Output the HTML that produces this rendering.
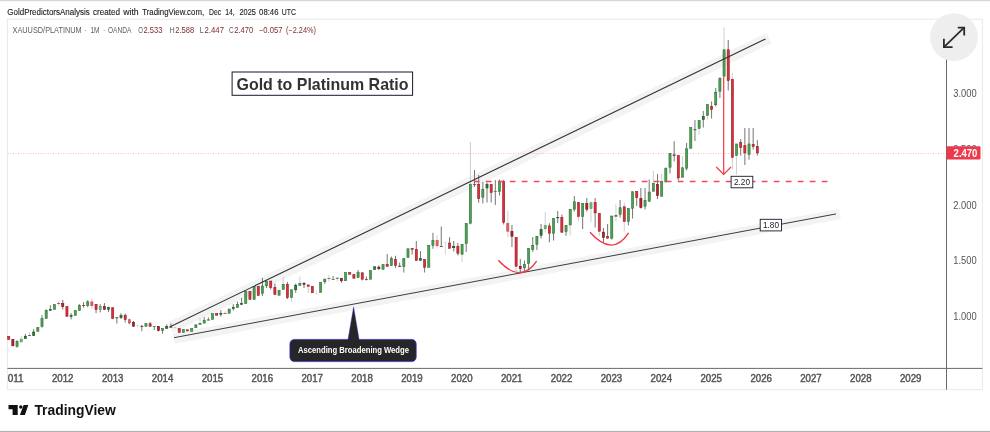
<!DOCTYPE html>
<html><head><meta charset="utf-8"><title>Gold to Platinum Ratio</title>
<style>
html,body{margin:0;padding:0;background:#fff}
body{width:990px;height:432px;overflow:hidden;position:relative}
svg{position:absolute;left:0;top:0;display:block}
text{font-family:"Liberation Sans",Arial,sans-serif}
</style></head><body>
<svg width="990" height="432" viewBox="0 0 990 432">

<rect x="0" y="0" width="990" height="1.2" fill="#d6d6d6"/>
<rect x="0" y="430.9" width="990" height="1.1" fill="#b0b0b0"/>
<rect x="7.4" y="19.2" width="975" height="370.5" fill="#fff" stroke="#e9e9e9" stroke-width="1"/>
<line x1="170.50" y1="327.46" x2="769.10" y2="38.16" stroke="#f3f3f3" stroke-width="11.5"/>
<line x1="173.71" y1="338.56" x2="839.93" y2="214.01" stroke="#f3f3f3" stroke-width="10.4"/>
<line x1="8" y1="153.5" x2="946" y2="153.5" stroke="#f6b3b8" stroke-width="0.85" stroke-dasharray="1 1.5"/>
<g id="candles">
<rect x="7.65" y="336.35" width="2.15" height="3.10" fill="#dc2e3a" stroke="#8e1c24" stroke-width="0.55"/>
<rect x="11.80" y="339.35" width="2.15" height="6.50" fill="#c01f2c" stroke="#5e0c13" stroke-width="0.55"/>
<line x1="17.04" y1="340.2" x2="17.04" y2="347.6" stroke="#505050" stroke-width="0.8"/>
<rect x="15.96" y="341.45" width="2.15" height="4.90" fill="#4ca050" stroke="#2c6e35" stroke-width="0.55"/>
<line x1="21.20" y1="336.1" x2="21.20" y2="342.2" stroke="#c2c2c2" stroke-width="0.8"/>
<rect x="20.12" y="339.15" width="2.15" height="2.80" fill="#72b876" stroke="#4a9453" stroke-width="0.55"/>
<line x1="25.36" y1="334.1" x2="25.36" y2="338.8" stroke="#505050" stroke-width="0.8"/>
<rect x="24.28" y="336.25" width="2.15" height="2.30" fill="#2c7c38" stroke="#114a1d" stroke-width="0.55"/>
<line x1="29.52" y1="332.3" x2="29.52" y2="336.4" stroke="#c2c2c2" stroke-width="0.8"/>
<rect x="28.02" y="335.1" width="3" height="0.8" fill="#2c6e35"/>
<line x1="33.67" y1="329.1" x2="33.67" y2="335.7" stroke="#505050" stroke-width="0.8"/>
<rect x="32.60" y="332.05" width="2.15" height="3.40" fill="#2c7c38" stroke="#114a1d" stroke-width="0.55"/>
<rect x="36.76" y="327.35" width="2.15" height="4.10" fill="#4ca050" stroke="#2c6e35" stroke-width="0.55"/>
<line x1="41.99" y1="315.2" x2="41.99" y2="327.6" stroke="#505050" stroke-width="0.8"/>
<rect x="40.92" y="318.65" width="2.15" height="7.90" fill="#4ca050" stroke="#2c6e35" stroke-width="0.55"/>
<line x1="46.15" y1="309.3" x2="46.15" y2="318.6" stroke="#505050" stroke-width="0.8"/>
<rect x="45.08" y="310.35" width="2.15" height="8.00" fill="#4ca050" stroke="#2c6e35" stroke-width="0.55"/>
<line x1="50.31" y1="305.2" x2="50.31" y2="310.5" stroke="#505050" stroke-width="0.8"/>
<rect x="49.23" y="309.35" width="2.15" height="0.90" fill="#2c7c38" stroke="#114a1d" stroke-width="0.55"/>
<rect x="53.39" y="304.45" width="2.15" height="5.10" fill="#4ca050" stroke="#2c6e35" stroke-width="0.55"/>
<line x1="58.63" y1="301.1" x2="58.63" y2="305.7" stroke="#c2c2c2" stroke-width="0.8"/>
<rect x="57.13" y="303.0" width="3" height="0.7" fill="#8e1c24"/>
<line x1="62.79" y1="299.9" x2="62.79" y2="309.5" stroke="#505050" stroke-width="0.8"/>
<rect x="61.71" y="303.65" width="2.15" height="2.80" fill="#c01f2c" stroke="#5e0c13" stroke-width="0.55"/>
<rect x="65.87" y="306.65" width="2.15" height="9.70" fill="#dc2e3a" stroke="#8e1c24" stroke-width="0.55"/>
<line x1="71.11" y1="313.1" x2="71.11" y2="319.4" stroke="#505050" stroke-width="0.8"/>
<rect x="70.03" y="315.45" width="2.15" height="0.90" fill="#2c7c38" stroke="#114a1d" stroke-width="0.55"/>
<rect x="74.19" y="310.55" width="2.15" height="4.90" fill="#4ca050" stroke="#2c6e35" stroke-width="0.55"/>
<line x1="79.42" y1="304.2" x2="79.42" y2="310.6" stroke="#505050" stroke-width="0.8"/>
<rect x="78.35" y="305.25" width="2.15" height="5.10" fill="#4ca050" stroke="#2c6e35" stroke-width="0.55"/>
<line x1="83.58" y1="302.1" x2="83.58" y2="307.7" stroke="#505050" stroke-width="0.8"/>
<rect x="82.08" y="305.0" width="3" height="0.8" fill="#8e1c24"/>
<line x1="87.74" y1="300.1" x2="87.74" y2="307.2" stroke="#505050" stroke-width="0.8"/>
<rect x="86.67" y="301.85" width="2.15" height="3.60" fill="#4ca050" stroke="#2c6e35" stroke-width="0.55"/>
<line x1="91.90" y1="298.9" x2="91.90" y2="308.7" stroke="#c2c2c2" stroke-width="0.8"/>
<rect x="90.82" y="301.85" width="2.15" height="3.90" fill="#ea5b66" stroke="#c4434d" stroke-width="0.55"/>
<line x1="96.06" y1="304.1" x2="96.06" y2="313.2" stroke="#505050" stroke-width="0.8"/>
<rect x="94.98" y="304.35" width="2.15" height="5.20" fill="#dc2e3a" stroke="#8e1c24" stroke-width="0.55"/>
<line x1="100.22" y1="304.3" x2="100.22" y2="312.3" stroke="#505050" stroke-width="0.8"/>
<rect x="99.14" y="306.55" width="2.15" height="3.10" fill="#72b876" stroke="#4a9453" stroke-width="0.55"/>
<line x1="104.38" y1="303.0" x2="104.38" y2="310.0" stroke="#505050" stroke-width="0.8"/>
<rect x="103.30" y="306.65" width="2.15" height="2.70" fill="#c01f2c" stroke="#5e0c13" stroke-width="0.55"/>
<line x1="108.54" y1="306.8" x2="108.54" y2="312.0" stroke="#505050" stroke-width="0.8"/>
<rect x="107.46" y="307.45" width="2.15" height="1.80" fill="#2c7c38" stroke="#114a1d" stroke-width="0.55"/>
<line x1="112.69" y1="307.5" x2="112.69" y2="319.2" stroke="#505050" stroke-width="0.8"/>
<rect x="111.62" y="307.75" width="2.15" height="10.50" fill="#dc2e3a" stroke="#8e1c24" stroke-width="0.55"/>
<line x1="116.85" y1="317.2" x2="116.85" y2="323.5" stroke="#505050" stroke-width="0.8"/>
<rect x="115.35" y="317.2" width="3" height="1.0" fill="#2c6e35"/>
<line x1="121.01" y1="313.2" x2="121.01" y2="319.0" stroke="#505050" stroke-width="0.8"/>
<rect x="119.94" y="315.55" width="2.15" height="2.00" fill="#2c7c38" stroke="#114a1d" stroke-width="0.55"/>
<line x1="125.17" y1="313.5" x2="125.17" y2="322.5" stroke="#505050" stroke-width="0.8"/>
<rect x="124.10" y="315.25" width="2.15" height="4.30" fill="#dc2e3a" stroke="#8e1c24" stroke-width="0.55"/>
<line x1="129.33" y1="318.8" x2="129.33" y2="324.2" stroke="#505050" stroke-width="0.8"/>
<rect x="128.26" y="319.75" width="2.15" height="3.20" fill="#ea5b66" stroke="#c4434d" stroke-width="0.55"/>
<line x1="133.49" y1="321.0" x2="133.49" y2="326.5" stroke="#505050" stroke-width="0.8"/>
<rect x="132.42" y="322.25" width="2.15" height="4.00" fill="#c01f2c" stroke="#5e0c13" stroke-width="0.55"/>
<line x1="137.65" y1="324.5" x2="137.65" y2="327.5" stroke="#cfcfcf" stroke-width="0.8"/>
<rect x="136.45" y="325.3" width="2.4" height="0.5" fill="#dc2e3a" opacity="0.35"/>
<line x1="141.81" y1="324.8" x2="141.81" y2="331.2" stroke="#505050" stroke-width="0.8"/>
<rect x="140.31" y="326.0" width="3" height="0.8" fill="#8e1c24"/>
<rect x="144.89" y="323.55" width="2.15" height="2.80" fill="#4ca050" stroke="#2c6e35" stroke-width="0.55"/>
<line x1="150.13" y1="322.0" x2="150.13" y2="326.6" stroke="#505050" stroke-width="0.8"/>
<rect x="149.05" y="323.75" width="2.15" height="2.60" fill="#dc2e3a" stroke="#8e1c24" stroke-width="0.55"/>
<line x1="154.28" y1="326.2" x2="154.28" y2="330.0" stroke="#505050" stroke-width="0.8"/>
<rect x="152.78" y="326.2" width="3" height="0.7" fill="#2c6e35"/>
<line x1="158.44" y1="326.2" x2="158.44" y2="331.5" stroke="#505050" stroke-width="0.8"/>
<rect x="157.37" y="326.45" width="2.15" height="4.00" fill="#c01f2c" stroke="#5e0c13" stroke-width="0.55"/>
<line x1="162.60" y1="328.2" x2="162.60" y2="333.8" stroke="#505050" stroke-width="0.8"/>
<rect x="161.53" y="328.45" width="2.15" height="2.00" fill="#4ca050" stroke="#2c6e35" stroke-width="0.55"/>
<line x1="166.76" y1="324.5" x2="166.76" y2="328.6" stroke="#505050" stroke-width="0.8"/>
<rect x="165.69" y="326.55" width="2.15" height="1.80" fill="#2c7c38" stroke="#114a1d" stroke-width="0.55"/>
<line x1="170.92" y1="323.5" x2="170.92" y2="327.6" stroke="#505050" stroke-width="0.8"/>
<rect x="169.42" y="326.8" width="3" height="0.8" fill="#8e1c24"/>
<line x1="175.08" y1="326.5" x2="175.08" y2="328.5" stroke="#cfcfcf" stroke-width="0.8"/>
<rect x="173.88" y="327.3" width="2.4" height="0.5" fill="#dc2e3a" opacity="0.35"/>
<rect x="178.16" y="328.45" width="2.15" height="4.10" fill="#dc2e3a" stroke="#8e1c24" stroke-width="0.55"/>
<rect x="182.32" y="329.25" width="2.15" height="3.30" fill="#4ca050" stroke="#2c6e35" stroke-width="0.55"/>
<rect x="186.48" y="329.75" width="2.15" height="1.20" fill="#dc2e3a" stroke="#8e1c24" stroke-width="0.55"/>
<rect x="190.64" y="328.45" width="2.15" height="2.80" fill="#4ca050" stroke="#2c6e35" stroke-width="0.55"/>
<rect x="194.80" y="324.75" width="2.15" height="3.00" fill="#4ca050" stroke="#2c6e35" stroke-width="0.55"/>
<line x1="200.03" y1="318.0" x2="200.03" y2="324.5" stroke="#c2c2c2" stroke-width="0.8"/>
<rect x="198.53" y="323.3" width="3" height="1.2" fill="#114a1d"/>
<line x1="204.19" y1="317.2" x2="204.19" y2="323.3" stroke="#505050" stroke-width="0.8"/>
<rect x="203.12" y="320.45" width="2.15" height="2.60" fill="#4ca050" stroke="#2c6e35" stroke-width="0.55"/>
<line x1="208.35" y1="317.5" x2="208.35" y2="320.5" stroke="#505050" stroke-width="0.8"/>
<rect x="206.85" y="319.5" width="3" height="1.0" fill="#2c6e35"/>
<rect x="211.44" y="313.45" width="2.15" height="6.10" fill="#4ca050" stroke="#2c6e35" stroke-width="0.55"/>
<rect x="215.59" y="313.25" width="2.15" height="2.00" fill="#dc2e3a" stroke="#8e1c24" stroke-width="0.55"/>
<line x1="220.83" y1="310.2" x2="220.83" y2="316.5" stroke="#505050" stroke-width="0.8"/>
<rect x="219.75" y="313.25" width="2.15" height="1.00" fill="#2c7c38" stroke="#114a1d" stroke-width="0.55"/>
<line x1="224.99" y1="311.5" x2="224.99" y2="313.5" stroke="#c2c2c2" stroke-width="0.8"/>
<rect x="223.49" y="313.1" width="3" height="0.7" fill="#8e1c24"/>
<rect x="228.07" y="309.05" width="2.15" height="4.20" fill="#4ca050" stroke="#2c6e35" stroke-width="0.55"/>
<line x1="233.31" y1="304.2" x2="233.31" y2="310.5" stroke="#505050" stroke-width="0.8"/>
<rect x="232.23" y="307.45" width="2.15" height="1.10" fill="#2c7c38" stroke="#114a1d" stroke-width="0.55"/>
<line x1="237.46" y1="301.8" x2="237.46" y2="307.8" stroke="#505050" stroke-width="0.8"/>
<rect x="236.39" y="304.45" width="2.15" height="3.10" fill="#4ca050" stroke="#2c6e35" stroke-width="0.55"/>
<line x1="241.62" y1="298.0" x2="241.62" y2="304.7" stroke="#505050" stroke-width="0.8"/>
<rect x="240.55" y="303.45" width="2.15" height="1.00" fill="#2c7c38" stroke="#114a1d" stroke-width="0.55"/>
<rect x="244.71" y="291.45" width="2.15" height="12.10" fill="#4ca050" stroke="#2c6e35" stroke-width="0.55"/>
<rect x="248.87" y="291.45" width="2.15" height="8.10" fill="#dc2e3a" stroke="#8e1c24" stroke-width="0.55"/>
<rect x="253.03" y="286.25" width="2.15" height="13.30" fill="#4ca050" stroke="#2c6e35" stroke-width="0.55"/>
<rect x="257.19" y="286.25" width="2.15" height="9.30" fill="#dc2e3a" stroke="#8e1c24" stroke-width="0.55"/>
<line x1="262.42" y1="278.0" x2="262.42" y2="296.0" stroke="#505050" stroke-width="0.8"/>
<rect x="261.34" y="286.05" width="2.15" height="7.20" fill="#4ca050" stroke="#2c6e35" stroke-width="0.55"/>
<line x1="266.58" y1="280.8" x2="266.58" y2="288.0" stroke="#505050" stroke-width="0.8"/>
<rect x="265.50" y="281.05" width="2.15" height="4.70" fill="#4ca050" stroke="#2c6e35" stroke-width="0.55"/>
<line x1="270.74" y1="280.8" x2="270.74" y2="289.5" stroke="#505050" stroke-width="0.8"/>
<rect x="269.66" y="281.05" width="2.15" height="6.50" fill="#dc2e3a" stroke="#8e1c24" stroke-width="0.55"/>
<line x1="274.90" y1="283.5" x2="274.90" y2="294.8" stroke="#505050" stroke-width="0.8"/>
<rect x="273.82" y="287.45" width="2.15" height="7.10" fill="#dc2e3a" stroke="#8e1c24" stroke-width="0.55"/>
<rect x="277.98" y="290.25" width="2.15" height="5.00" fill="#4ca050" stroke="#2c6e35" stroke-width="0.55"/>
<line x1="283.21" y1="277.0" x2="283.21" y2="289.8" stroke="#c2c2c2" stroke-width="0.8"/>
<rect x="282.14" y="284.25" width="2.15" height="5.30" fill="#4ca050" stroke="#2c6e35" stroke-width="0.55"/>
<line x1="287.37" y1="282.0" x2="287.37" y2="299.0" stroke="#505050" stroke-width="0.8"/>
<rect x="286.30" y="284.25" width="2.15" height="13.30" fill="#dc2e3a" stroke="#8e1c24" stroke-width="0.55"/>
<line x1="291.53" y1="289.5" x2="291.53" y2="301.8" stroke="#c2c2c2" stroke-width="0.8"/>
<rect x="290.46" y="289.75" width="2.15" height="7.80" fill="#4ca050" stroke="#2c6e35" stroke-width="0.55"/>
<line x1="295.69" y1="283.5" x2="295.69" y2="292.8" stroke="#505050" stroke-width="0.8"/>
<rect x="294.62" y="285.25" width="2.15" height="4.50" fill="#2c7c38" stroke="#114a1d" stroke-width="0.55"/>
<line x1="299.85" y1="276.5" x2="299.85" y2="285.8" stroke="#c2c2c2" stroke-width="0.8"/>
<rect x="298.78" y="283.25" width="2.15" height="2.30" fill="#4ca050" stroke="#2c6e35" stroke-width="0.55"/>
<line x1="304.01" y1="282.0" x2="304.01" y2="288.0" stroke="#505050" stroke-width="0.8"/>
<rect x="302.93" y="283.55" width="2.15" height="0.90" fill="#c01f2c" stroke="#5e0c13" stroke-width="0.55"/>
<line x1="308.17" y1="284.7" x2="308.17" y2="292.8" stroke="#c2c2c2" stroke-width="0.8"/>
<rect x="307.09" y="284.95" width="2.15" height="1.30" fill="#dc2e3a" stroke="#8e1c24" stroke-width="0.55"/>
<rect x="311.25" y="286.25" width="2.15" height="6.50" fill="#dc2e3a" stroke="#8e1c24" stroke-width="0.55"/>
<line x1="316.49" y1="290.8" x2="316.49" y2="294.2" stroke="#cfcfcf" stroke-width="0.8"/>
<rect x="315.29" y="293.6" width="2.4" height="0.5" fill="#4ca050" opacity="0.35"/>
<rect x="319.57" y="282.25" width="2.15" height="10.30" fill="#4ca050" stroke="#2c6e35" stroke-width="0.55"/>
<line x1="324.80" y1="278.8" x2="324.80" y2="283.8" stroke="#505050" stroke-width="0.8"/>
<rect x="323.73" y="279.05" width="2.15" height="2.70" fill="#4ca050" stroke="#2c6e35" stroke-width="0.55"/>
<line x1="328.96" y1="275.0" x2="328.96" y2="281.5" stroke="#c2c2c2" stroke-width="0.8"/>
<rect x="327.46" y="278.1" width="3" height="0.7" fill="#8e1c24"/>
<line x1="333.12" y1="276.0" x2="333.12" y2="279.7" stroke="#505050" stroke-width="0.8"/>
<rect x="331.62" y="279.0" width="3" height="0.7" fill="#2c6e35"/>
<line x1="337.28" y1="277.2" x2="337.28" y2="281.5" stroke="#c2c2c2" stroke-width="0.8"/>
<rect x="335.78" y="277.8" width="3" height="0.9" fill="#2c6e35"/>
<line x1="341.44" y1="278.0" x2="341.44" y2="282.8" stroke="#505050" stroke-width="0.8"/>
<rect x="340.37" y="278.25" width="2.15" height="2.50" fill="#c01f2c" stroke="#5e0c13" stroke-width="0.55"/>
<rect x="344.52" y="272.45" width="2.15" height="8.30" fill="#4ca050" stroke="#2c6e35" stroke-width="0.55"/>
<rect x="348.68" y="272.45" width="2.15" height="1.80" fill="#dc2e3a" stroke="#8e1c24" stroke-width="0.55"/>
<rect x="352.84" y="274.45" width="2.15" height="3.80" fill="#dc2e3a" stroke="#8e1c24" stroke-width="0.55"/>
<line x1="358.08" y1="270.0" x2="358.08" y2="277.8" stroke="#505050" stroke-width="0.8"/>
<rect x="357.00" y="272.25" width="2.15" height="5.30" fill="#4ca050" stroke="#2c6e35" stroke-width="0.55"/>
<line x1="362.24" y1="272.5" x2="362.24" y2="281.5" stroke="#c2c2c2" stroke-width="0.8"/>
<rect x="361.16" y="272.75" width="2.15" height="6.50" fill="#dc2e3a" stroke="#8e1c24" stroke-width="0.55"/>
<line x1="366.39" y1="276.5" x2="366.39" y2="280.5" stroke="#505050" stroke-width="0.8"/>
<rect x="364.89" y="279.0" width="3" height="0.7" fill="#8e1c24"/>
<rect x="369.48" y="270.45" width="2.15" height="8.80" fill="#4ca050" stroke="#2c6e35" stroke-width="0.55"/>
<rect x="373.64" y="266.75" width="2.15" height="2.70" fill="#2c7c38" stroke="#114a1d" stroke-width="0.55"/>
<line x1="378.87" y1="265.5" x2="378.87" y2="270.0" stroke="#505050" stroke-width="0.8"/>
<rect x="377.80" y="267.05" width="2.15" height="1.70" fill="#c01f2c" stroke="#5e0c13" stroke-width="0.55"/>
<rect x="381.96" y="264.45" width="2.15" height="5.00" fill="#4ca050" stroke="#2c6e35" stroke-width="0.55"/>
<line x1="387.19" y1="254.0" x2="387.19" y2="266.5" stroke="#505050" stroke-width="0.8"/>
<rect x="386.11" y="264.55" width="2.15" height="1.70" fill="#dc2e3a" stroke="#8e1c24" stroke-width="0.55"/>
<line x1="391.35" y1="256.5" x2="391.35" y2="265.8" stroke="#505050" stroke-width="0.8"/>
<rect x="390.27" y="258.45" width="2.15" height="7.10" fill="#4ca050" stroke="#2c6e35" stroke-width="0.55"/>
<line x1="395.51" y1="255.8" x2="395.51" y2="267.8" stroke="#505050" stroke-width="0.8"/>
<rect x="394.43" y="259.25" width="2.15" height="6.30" fill="#dc2e3a" stroke="#8e1c24" stroke-width="0.55"/>
<line x1="399.67" y1="262.5" x2="399.67" y2="266.8" stroke="#505050" stroke-width="0.8"/>
<rect x="398.17" y="265.8" width="3" height="1.0" fill="#8e1c24"/>
<line x1="403.82" y1="258.2" x2="403.82" y2="272.5" stroke="#505050" stroke-width="0.8"/>
<rect x="402.75" y="258.45" width="2.15" height="8.10" fill="#4ca050" stroke="#2c6e35" stroke-width="0.55"/>
<rect x="406.91" y="248.75" width="2.15" height="8.80" fill="#4ca050" stroke="#2c6e35" stroke-width="0.55"/>
<line x1="412.14" y1="248.2" x2="412.14" y2="254.5" stroke="#505050" stroke-width="0.8"/>
<rect x="411.07" y="248.45" width="2.15" height="0.80" fill="#dc2e3a" stroke="#8e1c24" stroke-width="0.55"/>
<line x1="416.30" y1="241.0" x2="416.30" y2="260.7" stroke="#505050" stroke-width="0.8"/>
<rect x="415.23" y="249.45" width="2.15" height="11.00" fill="#dc2e3a" stroke="#8e1c24" stroke-width="0.55"/>
<line x1="420.46" y1="251.0" x2="420.46" y2="260.7" stroke="#505050" stroke-width="0.8"/>
<rect x="419.39" y="258.45" width="2.15" height="2.00" fill="#2c7c38" stroke="#114a1d" stroke-width="0.55"/>
<line x1="424.62" y1="259.2" x2="424.62" y2="272.5" stroke="#505050" stroke-width="0.8"/>
<rect x="423.55" y="259.45" width="2.15" height="7.80" fill="#dc2e3a" stroke="#8e1c24" stroke-width="0.55"/>
<rect x="427.70" y="245.25" width="2.15" height="22.10" fill="#4ca050" stroke="#2c6e35" stroke-width="0.55"/>
<line x1="432.94" y1="232.8" x2="432.94" y2="248.8" stroke="#505050" stroke-width="0.8"/>
<rect x="431.86" y="240.25" width="2.15" height="5.30" fill="#4ca050" stroke="#2c6e35" stroke-width="0.55"/>
<line x1="437.10" y1="235.2" x2="437.10" y2="247.5" stroke="#c2c2c2" stroke-width="0.8"/>
<rect x="436.02" y="240.45" width="2.15" height="5.30" fill="#ea5b66" stroke="#c4434d" stroke-width="0.55"/>
<line x1="441.26" y1="226.5" x2="441.26" y2="246.8" stroke="#505050" stroke-width="0.8"/>
<rect x="439.76" y="246.0" width="3" height="0.8" fill="#8e1c24"/>
<line x1="445.42" y1="242.3" x2="445.42" y2="254.5" stroke="#cfcfcf" stroke-width="0.8"/>
<rect x="444.22" y="242.3" width="2.4" height="0.5" fill="#4ca050" opacity="0.35"/>
<line x1="449.57" y1="237.2" x2="449.57" y2="248.5" stroke="#505050" stroke-width="0.8"/>
<rect x="448.50" y="243.05" width="2.15" height="5.20" fill="#dc2e3a" stroke="#8e1c24" stroke-width="0.55"/>
<line x1="453.73" y1="241.0" x2="453.73" y2="251.5" stroke="#505050" stroke-width="0.8"/>
<rect x="452.66" y="246.25" width="2.15" height="1.50" fill="#2c7c38" stroke="#114a1d" stroke-width="0.55"/>
<line x1="457.89" y1="243.0" x2="457.89" y2="255.5" stroke="#505050" stroke-width="0.8"/>
<rect x="456.82" y="246.25" width="2.15" height="7.00" fill="#dc2e3a" stroke="#8e1c24" stroke-width="0.55"/>
<line x1="462.05" y1="244.0" x2="462.05" y2="262.0" stroke="#c2c2c2" stroke-width="0.8"/>
<rect x="460.98" y="244.25" width="2.15" height="10.00" fill="#4ca050" stroke="#2c6e35" stroke-width="0.55"/>
<line x1="466.21" y1="223.2" x2="466.21" y2="252.0" stroke="#505050" stroke-width="0.8"/>
<rect x="465.13" y="223.45" width="2.15" height="20.10" fill="#4ca050" stroke="#2c6e35" stroke-width="0.55"/>
<line x1="470.37" y1="142.0" x2="470.37" y2="225.0" stroke="#c2c2c2" stroke-width="0.8"/>
<rect x="469.29" y="184.25" width="2.15" height="39.10" fill="#4ca050" stroke="#2c6e35" stroke-width="0.55"/>
<line x1="474.53" y1="170.0" x2="474.53" y2="187.0" stroke="#505050" stroke-width="0.8"/>
<rect x="473.03" y="184.3" width="3" height="0.7" fill="#8e1c24"/>
<line x1="478.69" y1="175.0" x2="478.69" y2="202.8" stroke="#505050" stroke-width="0.8"/>
<rect x="477.61" y="184.45" width="2.15" height="14.10" fill="#dc2e3a" stroke="#8e1c24" stroke-width="0.55"/>
<line x1="482.85" y1="182.0" x2="482.85" y2="203.5" stroke="#505050" stroke-width="0.8"/>
<rect x="481.77" y="189.25" width="2.15" height="8.00" fill="#4ca050" stroke="#2c6e35" stroke-width="0.55"/>
<line x1="487.00" y1="182.5" x2="487.00" y2="202.5" stroke="#505050" stroke-width="0.8"/>
<rect x="485.93" y="184.25" width="2.15" height="3.70" fill="#2c7c38" stroke="#114a1d" stroke-width="0.55"/>
<line x1="491.16" y1="184.2" x2="491.16" y2="202.5" stroke="#505050" stroke-width="0.8"/>
<rect x="490.09" y="184.45" width="2.15" height="8.10" fill="#dc2e3a" stroke="#8e1c24" stroke-width="0.55"/>
<line x1="495.32" y1="180.0" x2="495.32" y2="205.0" stroke="#505050" stroke-width="0.8"/>
<rect x="493.82" y="191.2" width="3" height="0.7" fill="#2c6e35"/>
<line x1="499.48" y1="179.5" x2="499.48" y2="195.5" stroke="#505050" stroke-width="0.8"/>
<rect x="498.41" y="182.05" width="2.15" height="9.50" fill="#4ca050" stroke="#2c6e35" stroke-width="0.55"/>
<line x1="503.64" y1="180.0" x2="503.64" y2="224.5" stroke="#505050" stroke-width="0.8"/>
<rect x="502.57" y="181.25" width="2.15" height="41.00" fill="#dc2e3a" stroke="#8e1c24" stroke-width="0.55"/>
<line x1="507.80" y1="211.0" x2="507.80" y2="237.0" stroke="#c2c2c2" stroke-width="0.8"/>
<rect x="506.73" y="223.45" width="2.15" height="7.80" fill="#ea5b66" stroke="#c4434d" stroke-width="0.55"/>
<line x1="511.96" y1="225.0" x2="511.96" y2="247.0" stroke="#505050" stroke-width="0.8"/>
<rect x="510.88" y="231.45" width="2.15" height="4.80" fill="#c01f2c" stroke="#5e0c13" stroke-width="0.55"/>
<line x1="516.12" y1="237.2" x2="516.12" y2="271.0" stroke="#c2c2c2" stroke-width="0.8"/>
<rect x="515.04" y="237.45" width="2.15" height="28.80" fill="#dc2e3a" stroke="#8e1c24" stroke-width="0.55"/>
<line x1="520.28" y1="259.0" x2="520.28" y2="272.0" stroke="#505050" stroke-width="0.8"/>
<rect x="519.20" y="266.45" width="2.15" height="2.10" fill="#c01f2c" stroke="#5e0c13" stroke-width="0.55"/>
<line x1="524.44" y1="260.5" x2="524.44" y2="271.5" stroke="#505050" stroke-width="0.8"/>
<rect x="523.36" y="264.25" width="2.15" height="3.50" fill="#4ca050" stroke="#2c6e35" stroke-width="0.55"/>
<line x1="528.60" y1="248.0" x2="528.60" y2="270.5" stroke="#505050" stroke-width="0.8"/>
<rect x="527.52" y="248.25" width="2.15" height="15.30" fill="#4ca050" stroke="#2c6e35" stroke-width="0.55"/>
<line x1="532.75" y1="237.0" x2="532.75" y2="251.8" stroke="#505050" stroke-width="0.8"/>
<rect x="531.68" y="245.25" width="2.15" height="4.30" fill="#4ca050" stroke="#2c6e35" stroke-width="0.55"/>
<line x1="536.91" y1="236.0" x2="536.91" y2="250.0" stroke="#505050" stroke-width="0.8"/>
<rect x="535.84" y="236.25" width="2.15" height="8.30" fill="#4ca050" stroke="#2c6e35" stroke-width="0.55"/>
<line x1="541.07" y1="224.0" x2="541.07" y2="238.6" stroke="#505050" stroke-width="0.8"/>
<rect x="540.00" y="229.45" width="2.15" height="5.80" fill="#2c7c38" stroke="#114a1d" stroke-width="0.55"/>
<line x1="545.23" y1="212.0" x2="545.23" y2="232.5" stroke="#c2c2c2" stroke-width="0.8"/>
<rect x="544.16" y="225.45" width="2.15" height="3.30" fill="#72b876" stroke="#4a9453" stroke-width="0.55"/>
<line x1="549.39" y1="223.2" x2="549.39" y2="242.3" stroke="#505050" stroke-width="0.8"/>
<rect x="548.31" y="225.95" width="2.15" height="7.30" fill="#dc2e3a" stroke="#8e1c24" stroke-width="0.55"/>
<line x1="553.55" y1="218.2" x2="553.55" y2="240.5" stroke="#505050" stroke-width="0.8"/>
<rect x="552.47" y="218.45" width="2.15" height="14.80" fill="#4ca050" stroke="#2c6e35" stroke-width="0.55"/>
<line x1="557.71" y1="211.0" x2="557.71" y2="223.0" stroke="#505050" stroke-width="0.8"/>
<rect x="556.21" y="217.2" width="3" height="1.0" fill="#114a1d"/>
<line x1="561.87" y1="214.5" x2="561.87" y2="232.5" stroke="#505050" stroke-width="0.8"/>
<rect x="560.79" y="217.45" width="2.15" height="14.80" fill="#dc2e3a" stroke="#8e1c24" stroke-width="0.55"/>
<line x1="566.03" y1="225.2" x2="566.03" y2="235.8" stroke="#505050" stroke-width="0.8"/>
<rect x="564.95" y="225.45" width="2.15" height="6.10" fill="#4ca050" stroke="#2c6e35" stroke-width="0.55"/>
<line x1="570.18" y1="209.0" x2="570.18" y2="235.5" stroke="#c2c2c2" stroke-width="0.8"/>
<rect x="569.11" y="209.25" width="2.15" height="15.70" fill="#4ca050" stroke="#2c6e35" stroke-width="0.55"/>
<line x1="574.34" y1="196.0" x2="574.34" y2="211.5" stroke="#505050" stroke-width="0.8"/>
<rect x="573.27" y="201.75" width="2.15" height="7.50" fill="#4ca050" stroke="#2c6e35" stroke-width="0.55"/>
<line x1="578.50" y1="202.2" x2="578.50" y2="221.5" stroke="#c2c2c2" stroke-width="0.8"/>
<rect x="577.43" y="202.45" width="2.15" height="14.10" fill="#dc2e3a" stroke="#8e1c24" stroke-width="0.55"/>
<line x1="582.66" y1="203.2" x2="582.66" y2="229.0" stroke="#505050" stroke-width="0.8"/>
<rect x="581.59" y="203.45" width="2.15" height="12.80" fill="#4ca050" stroke="#2c6e35" stroke-width="0.55"/>
<line x1="586.82" y1="198.0" x2="586.82" y2="211.5" stroke="#505050" stroke-width="0.8"/>
<rect x="585.75" y="203.45" width="2.15" height="5.80" fill="#c01f2c" stroke="#5e0c13" stroke-width="0.55"/>
<line x1="590.98" y1="201.5" x2="590.98" y2="222.0" stroke="#c2c2c2" stroke-width="0.8"/>
<rect x="589.90" y="202.75" width="2.15" height="5.80" fill="#72b876" stroke="#4a9453" stroke-width="0.55"/>
<line x1="595.14" y1="198.0" x2="595.14" y2="227.5" stroke="#505050" stroke-width="0.8"/>
<rect x="594.06" y="202.45" width="2.15" height="10.50" fill="#dc2e3a" stroke="#8e1c24" stroke-width="0.55"/>
<line x1="599.30" y1="213.2" x2="599.30" y2="235.8" stroke="#c2c2c2" stroke-width="0.8"/>
<rect x="598.22" y="213.45" width="2.15" height="17.80" fill="#dc2e3a" stroke="#8e1c24" stroke-width="0.55"/>
<line x1="603.46" y1="228.0" x2="603.46" y2="242.1" stroke="#505050" stroke-width="0.8"/>
<rect x="602.38" y="232.15" width="2.15" height="5.40" fill="#c01f2c" stroke="#5e0c13" stroke-width="0.55"/>
<line x1="607.62" y1="224.0" x2="607.62" y2="238.4" stroke="#505050" stroke-width="0.8"/>
<rect x="606.54" y="236.35" width="2.15" height="1.80" fill="#dc2e3a" stroke="#8e1c24" stroke-width="0.55"/>
<line x1="611.77" y1="215.8" x2="611.77" y2="239.6" stroke="#505050" stroke-width="0.8"/>
<rect x="610.70" y="216.05" width="2.15" height="22.10" fill="#4ca050" stroke="#2c6e35" stroke-width="0.55"/>
<line x1="615.93" y1="204.0" x2="615.93" y2="221.5" stroke="#c2c2c2" stroke-width="0.8"/>
<rect x="614.43" y="215.3" width="3" height="1.2" fill="#114a1d"/>
<line x1="620.09" y1="200.0" x2="620.09" y2="217.5" stroke="#505050" stroke-width="0.8"/>
<rect x="619.02" y="207.75" width="2.15" height="6.50" fill="#4ca050" stroke="#2c6e35" stroke-width="0.55"/>
<line x1="624.25" y1="202.5" x2="624.25" y2="231.4" stroke="#c2c2c2" stroke-width="0.8"/>
<rect x="623.18" y="206.75" width="2.15" height="14.80" fill="#dc2e3a" stroke="#8e1c24" stroke-width="0.55"/>
<line x1="628.41" y1="208.2" x2="628.41" y2="225.5" stroke="#505050" stroke-width="0.8"/>
<rect x="627.34" y="208.45" width="2.15" height="13.10" fill="#4ca050" stroke="#2c6e35" stroke-width="0.55"/>
<line x1="632.57" y1="191.5" x2="632.57" y2="218.5" stroke="#505050" stroke-width="0.8"/>
<rect x="631.50" y="191.75" width="2.15" height="16.50" fill="#4ca050" stroke="#2c6e35" stroke-width="0.55"/>
<line x1="636.73" y1="191.2" x2="636.73" y2="206.0" stroke="#505050" stroke-width="0.8"/>
<rect x="635.65" y="191.45" width="2.15" height="6.10" fill="#dc2e3a" stroke="#8e1c24" stroke-width="0.55"/>
<line x1="640.89" y1="188.0" x2="640.89" y2="208.5" stroke="#505050" stroke-width="0.8"/>
<rect x="639.81" y="198.45" width="2.15" height="9.10" fill="#c01f2c" stroke="#5e0c13" stroke-width="0.55"/>
<line x1="645.05" y1="188.0" x2="645.05" y2="209.5" stroke="#505050" stroke-width="0.8"/>
<rect x="643.97" y="200.45" width="2.15" height="5.80" fill="#4ca050" stroke="#2c6e35" stroke-width="0.55"/>
<line x1="649.21" y1="179.5" x2="649.21" y2="201.5" stroke="#505050" stroke-width="0.8"/>
<rect x="648.13" y="192.05" width="2.15" height="9.20" fill="#4ca050" stroke="#2c6e35" stroke-width="0.55"/>
<line x1="653.37" y1="171.0" x2="653.37" y2="191.5" stroke="#c2c2c2" stroke-width="0.8"/>
<rect x="652.29" y="183.25" width="2.15" height="8.00" fill="#4ca050" stroke="#2c6e35" stroke-width="0.55"/>
<line x1="657.52" y1="174.0" x2="657.52" y2="199.0" stroke="#505050" stroke-width="0.8"/>
<rect x="656.45" y="184.45" width="2.15" height="11.10" fill="#c01f2c" stroke="#5e0c13" stroke-width="0.55"/>
<line x1="661.68" y1="174.0" x2="661.68" y2="196.5" stroke="#c2c2c2" stroke-width="0.8"/>
<rect x="660.61" y="181.45" width="2.15" height="14.80" fill="#4ca050" stroke="#2c6e35" stroke-width="0.55"/>
<rect x="664.77" y="168.05" width="2.15" height="13.90" fill="#4ca050" stroke="#2c6e35" stroke-width="0.55"/>
<line x1="670.00" y1="153.2" x2="670.00" y2="173.5" stroke="#505050" stroke-width="0.8"/>
<rect x="668.93" y="153.45" width="2.15" height="13.80" fill="#4ca050" stroke="#2c6e35" stroke-width="0.55"/>
<line x1="674.16" y1="141.2" x2="674.16" y2="161.5" stroke="#505050" stroke-width="0.8"/>
<rect x="672.66" y="154.5" width="3" height="1.2" fill="#8e1c24"/>
<line x1="678.32" y1="155.2" x2="678.32" y2="180.5" stroke="#505050" stroke-width="0.8"/>
<rect x="677.24" y="155.45" width="2.15" height="22.50" fill="#dc2e3a" stroke="#8e1c24" stroke-width="0.55"/>
<line x1="682.48" y1="156.0" x2="682.48" y2="177.5" stroke="#c2c2c2" stroke-width="0.8"/>
<rect x="681.40" y="167.75" width="2.15" height="9.50" fill="#4ca050" stroke="#2c6e35" stroke-width="0.55"/>
<line x1="686.64" y1="143.0" x2="686.64" y2="170.5" stroke="#505050" stroke-width="0.8"/>
<rect x="685.56" y="148.75" width="2.15" height="19.50" fill="#4ca050" stroke="#2c6e35" stroke-width="0.55"/>
<rect x="689.72" y="127.45" width="2.15" height="20.80" fill="#4ca050" stroke="#2c6e35" stroke-width="0.55"/>
<line x1="694.96" y1="120.0" x2="694.96" y2="141.0" stroke="#505050" stroke-width="0.8"/>
<rect x="693.46" y="129.2" width="3" height="1.0" fill="#2c6e35"/>
<line x1="699.11" y1="120.2" x2="699.11" y2="135.0" stroke="#c2c2c2" stroke-width="0.8"/>
<rect x="698.04" y="120.45" width="2.15" height="8.10" fill="#4ca050" stroke="#2c6e35" stroke-width="0.55"/>
<line x1="703.27" y1="111.0" x2="703.27" y2="127.5" stroke="#505050" stroke-width="0.8"/>
<rect x="702.20" y="116.45" width="2.15" height="3.10" fill="#2c7c38" stroke="#114a1d" stroke-width="0.55"/>
<line x1="707.43" y1="104.2" x2="707.43" y2="119.5" stroke="#c2c2c2" stroke-width="0.8"/>
<rect x="706.36" y="104.45" width="2.15" height="11.10" fill="#4ca050" stroke="#2c6e35" stroke-width="0.55"/>
<line x1="711.59" y1="101.5" x2="711.59" y2="118.5" stroke="#505050" stroke-width="0.8"/>
<rect x="710.52" y="106.45" width="2.15" height="3.10" fill="#dc2e3a" stroke="#8e1c24" stroke-width="0.55"/>
<line x1="715.75" y1="88.0" x2="715.75" y2="106.5" stroke="#505050" stroke-width="0.8"/>
<rect x="714.67" y="92.25" width="2.15" height="12.50" fill="#4ca050" stroke="#2c6e35" stroke-width="0.55"/>
<line x1="719.91" y1="77.2" x2="719.91" y2="98.0" stroke="#505050" stroke-width="0.8"/>
<rect x="718.83" y="78.45" width="2.15" height="12.80" fill="#4ca050" stroke="#2c6e35" stroke-width="0.55"/>
<line x1="724.07" y1="27.5" x2="724.07" y2="76.5" stroke="#c2c2c2" stroke-width="0.8"/>
<rect x="722.99" y="49.75" width="2.15" height="26.50" fill="#4ca050" stroke="#2c6e35" stroke-width="0.55"/>
<line x1="728.23" y1="40.0" x2="728.23" y2="90.5" stroke="#505050" stroke-width="0.8"/>
<rect x="727.15" y="49.75" width="2.15" height="30.80" fill="#dc2e3a" stroke="#8e1c24" stroke-width="0.55"/>
<line x1="732.39" y1="73.0" x2="732.39" y2="169.5" stroke="#c2c2c2" stroke-width="0.8"/>
<rect x="731.31" y="79.25" width="2.15" height="78.10" fill="#dc2e3a" stroke="#8e1c24" stroke-width="0.55"/>
<line x1="736.54" y1="143.7" x2="736.54" y2="174.5" stroke="#c2c2c2" stroke-width="0.8"/>
<rect x="735.47" y="143.95" width="2.15" height="11.60" fill="#4ca050" stroke="#2c6e35" stroke-width="0.55"/>
<line x1="740.70" y1="139.1" x2="740.70" y2="155.7" stroke="#505050" stroke-width="0.8"/>
<rect x="739.63" y="142.65" width="2.15" height="4.70" fill="#dc2e3a" stroke="#8e1c24" stroke-width="0.55"/>
<line x1="744.86" y1="128.0" x2="744.86" y2="165.0" stroke="#505050" stroke-width="0.8"/>
<rect x="743.79" y="145.65" width="2.15" height="7.20" fill="#dc2e3a" stroke="#8e1c24" stroke-width="0.55"/>
<line x1="749.02" y1="128.0" x2="749.02" y2="159.7" stroke="#505050" stroke-width="0.8"/>
<rect x="747.95" y="143.95" width="2.15" height="10.50" fill="#4ca050" stroke="#2c6e35" stroke-width="0.55"/>
<line x1="753.18" y1="128.0" x2="753.18" y2="149.5" stroke="#505050" stroke-width="0.8"/>
<rect x="752.11" y="144.35" width="2.15" height="2.10" fill="#dc2e3a" stroke="#8e1c24" stroke-width="0.55"/>
<line x1="757.34" y1="140.1" x2="757.34" y2="155.6" stroke="#505050" stroke-width="0.8"/>
<rect x="756.26" y="146.35" width="2.15" height="6.50" fill="#dc2e3a" stroke="#8e1c24" stroke-width="0.55"/>
</g>
<line x1="169.6" y1="327.0" x2="765.5" y2="39.0" stroke="#333" stroke-width="1.1"/>
<line x1="174.0" y1="337.7" x2="836.0" y2="213.95" stroke="#333" stroke-width="0.95"/>
<line x1="473.8" y1="181.5" x2="827.8" y2="181.5" stroke="#f3485a" stroke-width="1.3" stroke-dasharray="5.7 6.3"/>
<g stroke="#f23645" stroke-width="1.2" fill="none"><line x1="723.7" y1="77" x2="723.7" y2="174.3"/><polyline points="716.2,167.0 723.7,174.5 731.0,167.0"/></g>
<path d="M498.3,260.2 Q520.5,284.6 536.7,261.1" stroke="#f23645" stroke-width="1.4" fill="none"/>
<path d="M590,232.3 Q612.5,257.6 628.6,232.9" stroke="#f23645" stroke-width="1.4" fill="none"/>
<line x1="7.4" y1="368.4" x2="982.4" y2="368.4" stroke="#6a6a6a" stroke-width="1"/>
<line x1="946.5" y1="19.2" x2="946.5" y2="389.7" stroke="#6a6a6a" stroke-width="1"/>
<text x="953.3" y="97.0" font-size="10.4" fill="#555" textLength="23.4" lengthAdjust="spacingAndGlyphs">3.000</text>
<text x="953.3" y="152.7" font-size="10.4" fill="#555" textLength="23.4" lengthAdjust="spacingAndGlyphs">2.500</text>
<text x="953.3" y="208.5" font-size="10.4" fill="#555" textLength="23.4" lengthAdjust="spacingAndGlyphs">2.000</text>
<text x="953.3" y="264.2" font-size="10.4" fill="#555" textLength="23.4" lengthAdjust="spacingAndGlyphs">1.500</text>
<text x="953.3" y="320.0" font-size="10.4" fill="#555" textLength="23.4" lengthAdjust="spacingAndGlyphs">1.000</text>
<rect x="946.5" y="146.2" width="34" height="13.4" rx="1" fill="#ec3a4c"/>
<text x="953.6" y="156.6" font-size="10.8" font-weight="bold" fill="#fff" textLength="23.8" lengthAdjust="spacingAndGlyphs">2.470</text>
<g clip-path="url(#cf)">
<text x="2.2" y="382.3" font-size="10" fill="#555" stroke="#555" stroke-width="0.45" textLength="21.5" lengthAdjust="spacingAndGlyphs">2011</text>
<text x="52.0" y="382.3" font-size="10" fill="#555" stroke="#555" stroke-width="0.45" textLength="21.5" lengthAdjust="spacingAndGlyphs">2012</text>
<text x="101.9" y="382.3" font-size="10" fill="#555" stroke="#555" stroke-width="0.45" textLength="21.5" lengthAdjust="spacingAndGlyphs">2013</text>
<text x="151.8" y="382.3" font-size="10" fill="#555" stroke="#555" stroke-width="0.45" textLength="21.5" lengthAdjust="spacingAndGlyphs">2014</text>
<text x="201.7" y="382.3" font-size="10" fill="#555" stroke="#555" stroke-width="0.45" textLength="21.5" lengthAdjust="spacingAndGlyphs">2015</text>
<text x="251.6" y="382.3" font-size="10" fill="#555" stroke="#555" stroke-width="0.45" textLength="21.5" lengthAdjust="spacingAndGlyphs">2016</text>
<text x="301.4" y="382.3" font-size="10" fill="#555" stroke="#555" stroke-width="0.45" textLength="21.5" lengthAdjust="spacingAndGlyphs">2017</text>
<text x="351.3" y="382.3" font-size="10" fill="#555" stroke="#555" stroke-width="0.45" textLength="21.5" lengthAdjust="spacingAndGlyphs">2018</text>
<text x="401.2" y="382.3" font-size="10" fill="#555" stroke="#555" stroke-width="0.45" textLength="21.5" lengthAdjust="spacingAndGlyphs">2019</text>
<text x="451.1" y="382.3" font-size="10" fill="#555" stroke="#555" stroke-width="0.45" textLength="21.5" lengthAdjust="spacingAndGlyphs">2020</text>
<text x="500.9" y="382.3" font-size="10" fill="#555" stroke="#555" stroke-width="0.45" textLength="21.5" lengthAdjust="spacingAndGlyphs">2021</text>
<text x="550.8" y="382.3" font-size="10" fill="#555" stroke="#555" stroke-width="0.45" textLength="21.5" lengthAdjust="spacingAndGlyphs">2022</text>
<text x="600.7" y="382.3" font-size="10" fill="#555" stroke="#555" stroke-width="0.45" textLength="21.5" lengthAdjust="spacingAndGlyphs">2023</text>
<text x="650.6" y="382.3" font-size="10" fill="#555" stroke="#555" stroke-width="0.45" textLength="21.5" lengthAdjust="spacingAndGlyphs">2024</text>
<text x="700.5" y="382.3" font-size="10" fill="#555" stroke="#555" stroke-width="0.45" textLength="21.5" lengthAdjust="spacingAndGlyphs">2025</text>
<text x="750.4" y="382.3" font-size="10" fill="#555" stroke="#555" stroke-width="0.45" textLength="21.5" lengthAdjust="spacingAndGlyphs">2026</text>
<text x="800.2" y="382.3" font-size="10" fill="#555" stroke="#555" stroke-width="0.45" textLength="21.5" lengthAdjust="spacingAndGlyphs">2027</text>
<text x="850.1" y="382.3" font-size="10" fill="#555" stroke="#555" stroke-width="0.45" textLength="21.5" lengthAdjust="spacingAndGlyphs">2028</text>
<text x="900.0" y="382.3" font-size="10" fill="#555" stroke="#555" stroke-width="0.45" textLength="21.5" lengthAdjust="spacingAndGlyphs">2029</text>
</g>
<defs><clipPath id="cf"><rect x="7.9" y="369" width="938" height="20"/></clipPath></defs>
<circle cx="954" cy="37.2" r="23.9" fill="#eeeeee"/>
<g stroke="#2b2b2b" stroke-width="1.8" fill="none" stroke-linecap="butt" stroke-linejoin="miter"><line x1="944.2" y1="46.8" x2="963.8" y2="27.9"/><polyline points="957.8,27.6 964.2,27.6 964.2,35.6"/><polyline points="943.9,38.8 943.9,47.2 952.6,47.2"/></g>
<rect x="232.1" y="72" width="180.5" height="23.3" fill="#fff" stroke="#17172e" stroke-width="1"/>
<text x="236.5" y="89.6" font-size="16.3" font-weight="bold" fill="#333" textLength="172" lengthAdjust="spacingAndGlyphs">Gold to Platinum Ratio</text>
<rect x="731.1" y="176.3" width="21.7" height="11.5" fill="#fff" stroke="#17172e" stroke-width="0.9"/>
<text x="734" y="185.1" font-size="9" fill="#222" textLength="16" lengthAdjust="spacingAndGlyphs">2.20</text>
<rect x="760.2" y="219.3" width="21.3" height="11.6" fill="#fff" stroke="#17172e" stroke-width="0.9"/>
<text x="763" y="228.2" font-size="9" fill="#222" textLength="16" lengthAdjust="spacingAndGlyphs">1.80</text>
<path d="M353.6,306.9 L359.1,339.6 L348,339.6 Z" fill="#262628" stroke="#2b2bd0" stroke-width="0.4"/>
<rect x="289.9" y="339.4" width="126.3" height="22.2" rx="4.5" fill="#262628" stroke="#2b2bd0" stroke-width="0.7"/>
<rect x="348.4" y="338.6" width="10.3" height="2" fill="#262628"/>
<text x="298" y="353.2" font-size="8.6" font-weight="bold" fill="#fff" textLength="111" lengthAdjust="spacingAndGlyphs">Ascending Broadening Wedge</text>
<text x="7.3" y="14.8" font-size="8.9" fill="#222" stroke="#222" stroke-width="0.12" textLength="82.4" lengthAdjust="spacingAndGlyphs">GoldPredictorsAnalysis</text>
<text x="92.9" y="14.8" font-size="8.9" fill="#222" stroke="#222" stroke-width="0.12" textLength="27.0" lengthAdjust="spacingAndGlyphs">created</text>
<text x="123.2" y="14.8" font-size="8.9" fill="#222" stroke="#222" stroke-width="0.12" textLength="15.5" lengthAdjust="spacingAndGlyphs">with</text>
<text x="142.2" y="14.8" font-size="8.9" fill="#222" stroke="#222" stroke-width="0.12" textLength="61.9" lengthAdjust="spacingAndGlyphs">TradingView.com,</text>
<text x="209" y="14.8" font-size="8.9" fill="#222" stroke="#222" stroke-width="0.12" textLength="12.1" lengthAdjust="spacingAndGlyphs">Dec</text>
<text x="225.2" y="14.8" font-size="8.9" fill="#222" stroke="#222" stroke-width="0.12" textLength="9.6" lengthAdjust="spacingAndGlyphs">14,</text>
<text x="239.4" y="14.8" font-size="8.9" fill="#222" stroke="#222" stroke-width="0.12" textLength="16.5" lengthAdjust="spacingAndGlyphs">2025</text>
<text x="259.1" y="14.8" font-size="8.9" fill="#222" stroke="#222" stroke-width="0.12" textLength="19.4" lengthAdjust="spacingAndGlyphs">08:46</text>
<text x="281.7" y="14.8" font-size="8.9" fill="#222" stroke="#222" stroke-width="0.12" textLength="14.2" lengthAdjust="spacingAndGlyphs">UTC</text>
<text x="12.5" y="33.3" font-size="8.4" fill="#5c5c5c" textLength="69.2" lengthAdjust="spacingAndGlyphs">XAUUSD/PLATINUM</text>
<text x="84.3" y="33.3" font-size="8.4" fill="#5c5c5c" textLength="1.7" lengthAdjust="spacingAndGlyphs">·</text>
<text x="90.5" y="33.3" font-size="8.4" fill="#5c5c5c" textLength="9.0" lengthAdjust="spacingAndGlyphs">1M</text>
<text x="103.3" y="33.3" font-size="8.4" fill="#5c5c5c" textLength="1.7" lengthAdjust="spacingAndGlyphs">·</text>
<text x="108" y="33.3" font-size="8.4" fill="#5c5c5c" textLength="23.3" lengthAdjust="spacingAndGlyphs">OANDA</text>
<text x="138.3" y="33.3" font-size="8.4" fill="#5c5c5c" textLength="4.7" lengthAdjust="spacingAndGlyphs">O</text>
<text x="143.5" y="33.3" font-size="8.4" fill="#7e2e2e" textLength="19.0" lengthAdjust="spacingAndGlyphs">2.533</text>
<text x="169.4" y="33.3" font-size="8.4" fill="#5c5c5c" textLength="5.2" lengthAdjust="spacingAndGlyphs">H</text>
<text x="175.2" y="33.3" font-size="8.4" fill="#7e2e2e" textLength="19.0" lengthAdjust="spacingAndGlyphs">2.588</text>
<text x="199.7" y="33.3" font-size="8.4" fill="#5c5c5c" textLength="3.9" lengthAdjust="spacingAndGlyphs">L</text>
<text x="204.6" y="33.3" font-size="8.4" fill="#7e2e2e" textLength="19.4" lengthAdjust="spacingAndGlyphs">2.447</text>
<text x="229" y="33.3" font-size="8.4" fill="#5c5c5c" textLength="4.8" lengthAdjust="spacingAndGlyphs">C</text>
<text x="234.2" y="33.3" font-size="8.4" fill="#7e2e2e" textLength="19.0" lengthAdjust="spacingAndGlyphs">2.470</text>
<text x="258.9" y="33.3" font-size="8.4" fill="#7e2e2e" textLength="23.6" lengthAdjust="spacingAndGlyphs">−0.057</text>
<text x="286" y="33.3" font-size="8.4" fill="#7e2e2e" textLength="29.9" lengthAdjust="spacingAndGlyphs">(−2.24%)</text>
<g fill="#111"><path d="M8.5,405.1 H17.7 V415 H12.6 V409.2 H8.5 Z"/><circle cx="20.8" cy="406.9" r="1.75"/><path d="M23.6,405.1 H28.3 L24.9,415 H19.9 Z"/></g>
<text x="34.4" y="415" font-size="13.8" font-weight="bold" fill="#111" textLength="81.4" lengthAdjust="spacingAndGlyphs">TradingView</text>
</svg></body></html>
